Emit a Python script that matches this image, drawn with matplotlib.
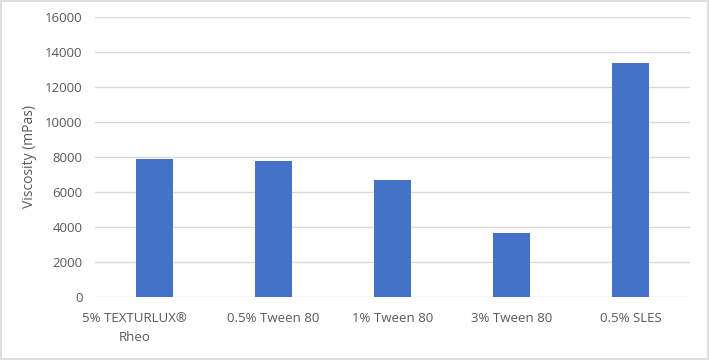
import numpy as np
import matplotlib.pyplot as plt
from matplotlib.transforms import ScaledTranslation

categories = ["5% TEXTURLUX\u00ae\nRheo", "0.5% Tween 80", "1% Tween 80", "3% Tween 80", "0.5% SLES"]
viscosity = [7900, 7750, 6700, 3650, 13400]
yticks = [0, 2000, 4000, 6000, 8000, 10000, 12000, 14000, 16000]

plt.rcParams["font.family"] = ["Open Sans", "DejaVu Sans"]

fig = plt.figure(figsize=(7.09, 3.6), dpi=100)
ax = fig.add_axes([95 / 709, 1 - 296.7 / 360, 595 / 709, (296.7 - 17.3) / 360])

x = np.arange(len(categories))
ax.bar(x, viscosity, width=0.31, color="#4472C4", zorder=3)

ax.set_xlim(-0.5, len(categories) - 0.5)
ax.set_ylim(0, 16000)
ax.set_yticks(yticks)
ax.set_yticklabels([str(v) for v in yticks])
ax.set_xticks(x)
ax.set_xticklabels(categories, multialignment="center", linespacing=1.6)
ax.grid(axis="y", color="#d9d9d9", linewidth=1, zorder=0)
for s in ax.spines.values():
    s.set_visible(False)
ax.tick_params(axis="both", length=0, colors="#595959", labelsize=9.5)
ax.tick_params(axis="x", pad=11)
ax.tick_params(axis="y", pad=9)
ax.set_ylabel("Viscosity (mPas)", color="#595959", fontsize=10, labelpad=6)

# the wrapped first label sits left of its bar in the original
lab0 = ax.get_xticklabels()[0]
lab0.set_transform(lab0.get_transform() + ScaledTranslation(-20 / 100, 0, fig.dpi_scale_trans))

fig.patches.append(plt.Rectangle((0.001, 0.002), 0.997, 0.995, transform=fig.transFigure,
                                 fill=False, edgecolor="#d9d9d9", linewidth=1.2))

fig.savefig("out.png", dpi=100)
